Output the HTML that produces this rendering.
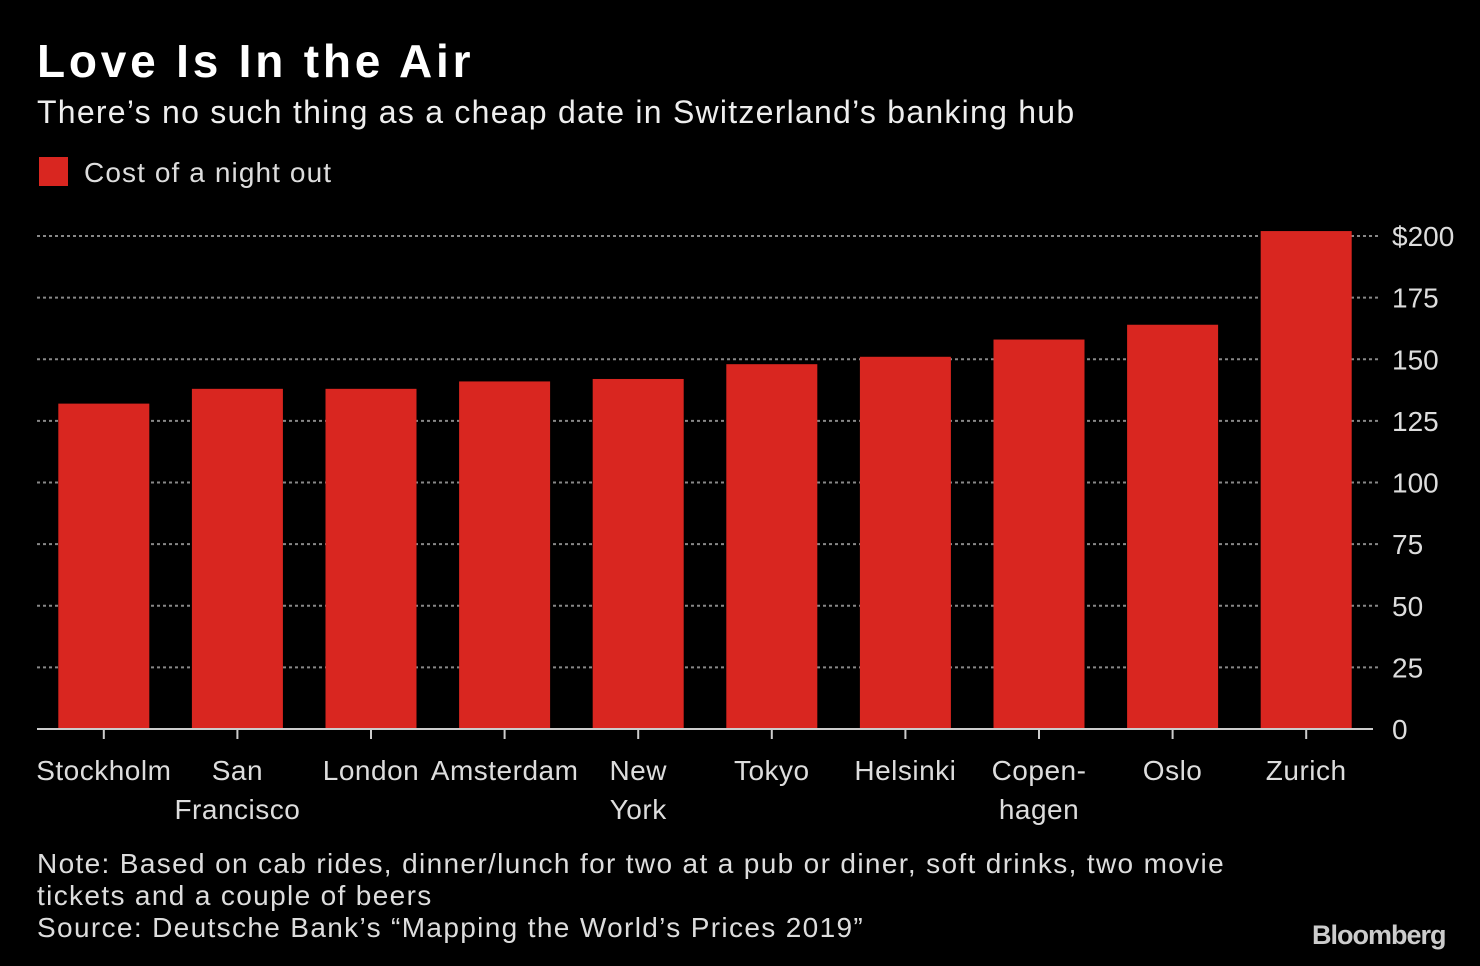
<!DOCTYPE html>
<html><head><meta charset="utf-8"><style>
body{margin:0;background:#000;width:1480px;height:966px;overflow:hidden;font-family:"Liberation Sans",sans-serif;color:#fff}
.t{position:absolute;white-space:nowrap}
</style></head><body>
<div class="t" style="left:37px;top:34px;font-size:46px;font-weight:bold;letter-spacing:3.8px">Love Is In the Air</div>
<div class="t" style="left:37px;top:94px;font-size:32px;color:#eee;letter-spacing:1.25px">There’s no such thing as a cheap date in Switzerland’s banking hub</div>
<div class="t" style="left:39px;top:157px;font-size:28px;color:#ddd;letter-spacing:1.1px"><span style="display:inline-block;width:29px;height:29px;background:#d92620;vertical-align:-4px;margin-right:16px"></span>Cost of a night out</div>
<svg id="chart" width="1480" height="966" style="position:absolute;left:0;top:0"></svg>
<div class="t" style="left:37px;top:848px;font-size:28px;line-height:32px;color:#ddd;letter-spacing:1.35px">Note: Based on cab rides, dinner/lunch for two at a pub or diner, soft drinks, two movie<br>tickets and a couple of beers<br>Source: Deutsche Bank’s “Mapping the World’s Prices 2019”</div>
<div class="t" style="left:1312px;top:920px;font-size:27px;font-weight:bold;color:#ccc;letter-spacing:-1px">Bloomberg</div>
<script>
const categories=[["Stockholm"],["San","Francisco"],["London"],["Amsterdam"],["New","York"],["Tokyo"],["Helsinki"],["Copen-","hagen"],["Oslo"],["Zurich"]];
const values=[132,138,138,141,142,148,151,158,164,202];
const ticks=[0,25,50,75,100,125,150,175,200];
const tickLabels=["0","25","50","75","100","125","150","175","$200"];
const NS="http://www.w3.org/2000/svg";
const svg=document.getElementById('chart');
const x0=37,x1=1373,yBase=729,yTop=236;
const y=v=>yBase-(v/200)*(yBase-yTop);
const band=(x1-x0)/categories.length;
const xc=i=>x0+band*(i+0.5);
function mk(t,a){const e=document.createElementNS(NS,t);for(const k in a)e.setAttribute(k,a[k]);svg.appendChild(e);return e;}
ticks.forEach((t,i)=>{
  if(t>0){const g=mk('line',{x1:x0,x2:1380,y1:y(t),y2:y(t),stroke:'#888','stroke-width':2,'stroke-dasharray':'3,3'});
  
  }
  const l=mk('text',{x:1392,y:y(t)+10,fill:'#ddd','font-size':28,'font-family':'Liberation Sans'});
  l.textContent=tickLabels[i];
  
  
});
values.forEach((v,i)=>{
  const r=mk('rect',{x:xc(i)-45.5,y:y(v),width:91,height:yBase-y(v),fill:'#d92620'});
  
  
  const tk=mk('line',{x1:xc(i),x2:xc(i),y1:yBase,y2:yBase+10,stroke:'#ccc','stroke-width':2});
  
  
  categories[i].forEach((s,j)=>{
    const t=mk('text',{x:xc(i),y:780+j*39,fill:'#ddd','font-size':28,'text-anchor':'middle','font-family':'Liberation Sans','letter-spacing':0.5});
    t.textContent=s;
    
    
  });
});
const ax=mk('line',{x1:x0,x2:x1,y1:yBase,y2:yBase,stroke:'#ccc','stroke-width':2});


</script>
</body></html>
